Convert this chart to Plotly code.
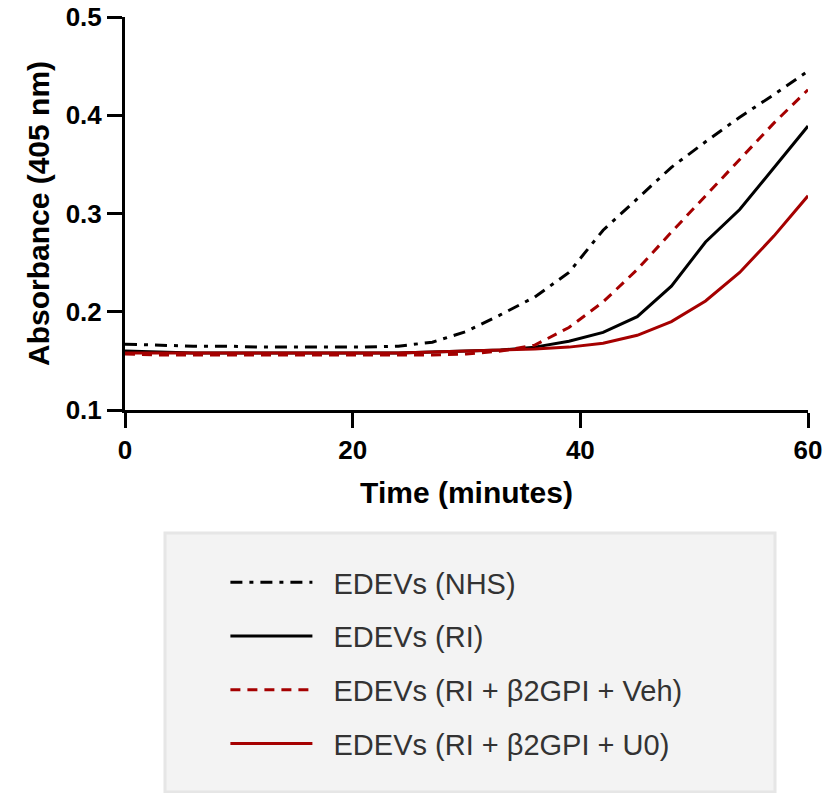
import plotly.graph_objects as go

# time points (minutes) and absorbance at 405 nm
time = [0, 3, 6, 9, 12, 15, 18, 21, 24, 27, 30, 33, 36, 39, 42, 45, 48, 51, 54, 57, 60]
nhs = [0.167, 0.166, 0.165, 0.165, 0.164, 0.164, 0.164, 0.164, 0.165, 0.169, 0.180, 0.197, 0.215,
       0.240, 0.283, 0.315, 0.347, 0.373, 0.398, 0.421, 0.445]
ri = [0.160, 0.159, 0.158, 0.158, 0.158, 0.158, 0.158, 0.158, 0.158, 0.159, 0.160, 0.161, 0.164,
      0.170, 0.179, 0.195, 0.226, 0.271, 0.304, 0.346, 0.389]
veh = [0.157, 0.156, 0.156, 0.156, 0.156, 0.156, 0.156, 0.156, 0.156, 0.156, 0.157, 0.160, 0.166,
       0.184, 0.210, 0.243, 0.281, 0.318, 0.356, 0.392, 0.426]
u0 = [0.158, 0.158, 0.158, 0.158, 0.158, 0.158, 0.158, 0.158, 0.158, 0.159, 0.160, 0.161, 0.162,
      0.164, 0.168, 0.176, 0.190, 0.211, 0.240, 0.277, 0.318]

names = ["EDEVs (NHS)", "EDEVs (RI)", "EDEVs (RI + β2GPI + Veh)", "EDEVs (RI + β2GPI + U0)"]
series = [nhs, ri, veh, u0]
colors = ["#000000", "#000000", "#a50000", "#a50000"]
dashes = ["12px,7px,4px,7px", "solid", "10px,7px", "solid"]

fig = go.Figure()
for i in range(len(names)):
    fig.add_trace(go.Scatter(x=time, y=series[i], mode="lines",
                             name="\u00a0\u00a0" + names[i],
                             legendgroup="g%d" % i,
                             line=dict(color=colors[i], width=3, dash=dashes[i])))

axis_font = dict(family="Arial, Liberation Sans", size=26, color="black", weight="bold")
title_font = dict(family="Arial, Liberation Sans", size=30, color="black", weight="bold")

fig.update_layout(
    width=836, height=793,
    margin=dict(l=125, r=28, t=17, b=383, autoexpand=False),
    plot_bgcolor="white", paper_bgcolor="white",
    showlegend=True,
    legend=dict(x=0.147, y=-0.374, xanchor="left", yanchor="top",
                bgcolor="rgba(0,0,0,0)", borderwidth=0,
                font=dict(family="Arial, Liberation Sans", size=29, color="#333333"),
                tracegroupgap=13, itemwidth=82),
    shapes=[dict(type="rect", xref="paper", yref="paper",
                 x0=(165 - 125) / 683, x1=(775 - 125) / 683,
                 y0=(410 - 792) / 393, y1=(410 - 533) / 393,
                 fillcolor="#f3f3f3", line=dict(color="#e6e6e6", width=3), layer="below")],
)
fig.update_xaxes(range=[0, 60], tickvals=[0, 20, 40, 60], showgrid=False, zeroline=False,
                 showline=True, linecolor="black", linewidth=3, automargin=False,
                 ticklabeloverflow="allow",
                 ticks="outside", ticklen=15, tickwidth=3, tickcolor="black",
                 tickfont=axis_font, title=dict(text="Time (minutes)", font=title_font, standoff=18))
fig.update_yaxes(range=[0.1, 0.5], tickvals=[0.1, 0.2, 0.3, 0.4, 0.5], tickformat=".1f",
                 showgrid=False, zeroline=False, automargin=False,
                 ticklabeloverflow="allow",
                 showline=True, linecolor="black", linewidth=3,
                 ticks="outside", ticklen=15, tickwidth=3, tickcolor="black",
                 tickfont=axis_font, title=dict(text="Absorbance (405 nm)", font=title_font, standoff=8))

# drop the default 8px page margin so the figure sits at the window corner
fig.write_html("out.html", config={"displayModeBar": False},
               post_script="document.body.style.margin='0';")
